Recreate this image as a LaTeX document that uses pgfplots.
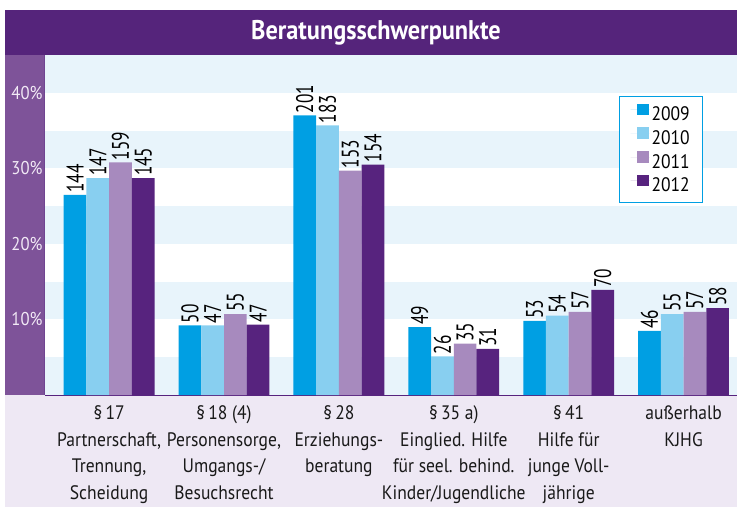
\documentclass[border=0pt]{standalone}
\usepackage{pgfplots}
\pgfplotsset{compat=1.18}
\usepackage{pgfplotstable}
\usepackage{fontspec}
\setmainfont{PT Sans}
\newfontfamily\titlefont[FakeStretch=0.9]{PT Sans}
\newfontfamily\barfont[FakeStretch=0.72]{PT Sans}
\newfontfamily\catfont[FakeStretch=0.9]{PT Sans}
\definecolor{c2009}{HTML}{009FE3}
\definecolor{c2010}{HTML}{88CFF0}
\definecolor{c2011}{HTML}{A78ABE}
\definecolor{c2012}{HTML}{57237E}
\definecolor{titlepurple}{HTML}{55247B}
\definecolor{bandpurple}{HTML}{7E5399}
\definecolor{stripe}{HTML}{E8F4FB}
\definecolor{bottomband}{HTML}{EEE8F4}
\definecolor{ticktext}{HTML}{F2EAF6}

\pgfplotstableread{
x p n
0 26.5 144
1 9.2 50
2 37.0 201
3 9.0 49
4 9.8 53
5 8.5 46
}\tnine
\pgfplotstableread{
x p n
0 28.7 147
1 9.2 47
2 35.7 183
3 5.1 26
4 10.5 54
5 10.7 55
}\tten
\pgfplotstableread{
x p n
0 30.8 159
1 10.7 55
2 29.7 153
3 6.8 35
4 11.0 57
5 11.0 57
}\televen
\pgfplotstableread{
x p n
0 28.7 145
1 9.3 47
2 30.5 154
3 6.1 31
4 13.9 70
5 11.5 58
}\ttwelve

\begin{document}
\begin{tikzpicture}
\fill[bottomband] (5pt,0pt) rectangle (737pt,112pt);
\fill[bandpurple] (5pt,112pt) rectangle (45pt,452pt);
\fill[titlepurple] (5pt,452pt) rectangle (737pt,497pt);
\node[text=white, font={\titlefont\bfseries\fontsize{27}{30}\selectfont}] at (376pt,474pt) {Beratungsschwerpunkte};
\begin{axis}[
  at={(45pt,112pt)}, anchor=south west,
  scale only axis, width=692pt, height=340pt,
  xmin=-0.558, xmax=5.465, ymin=0, ymax=45,
  clip=false,
  ybar=0pt, bar width=22.7pt,
  axis x line*=bottom, axis y line*=left,
  x axis line style={draw=c2012, line width=2pt, -},
  y axis line style={draw=c2012!85, line width=1pt, -},
  major tick length=0pt,
  xtick={0,1,2,3,4,5},
  xticklabels={
    {§\,17\\Partnerschaft,\\Trennung,\\Scheidung},
    {§\,18 (4)\\Personensorge,\\Umgangs-/\\Besuchsrecht},
    {§\,28\\Erziehungs-\\beratung},
    {§\,35 a)\\Einglied. Hilfe\\für seel. behind.\\Kinder/Jugendliche},
    {§\,41\\Hilfe für\\junge Voll-\\jährige},
    {außerhalb\\KJHG}},
  xticklabel style={align=center, font={\catfont\fontsize{19.5}{26.7}\selectfont}, text=black!90, anchor=north, yshift=-7pt},
  ytick={10,20,30,40},
  yticklabels={10\%,20\%,30\%,40\%},
  yticklabel style={font={\catfont\fontsize{18.5}{20}\selectfont}, text=ticktext, anchor=east, xshift=1pt},
  point meta=explicit symbolic,
  nodes near coords={\pgfplotspointmeta},
  every node near coord/.append style={rotate=90, anchor=west, font={\barfont\fontsize{24}{24}\selectfont}, text=black, inner sep=2pt},
  legend cell align=left,
  legend style={at={(0.8295,0.879)}, anchor=north west, draw=c2009, line width=1pt, fill=white,
    font={\catfont\fontsize{19.5}{22}\selectfont}, inner xsep=11pt, inner ysep=7pt, row sep=3pt},
  legend image code/.code={\fill[#1,draw=none] (0pt,-0.5pt) rectangle (12pt,11pt); \path (-6pt,5pt) -- (13pt,5pt);},
]
\fill[stripe] (axis cs:-0.558,0) rectangle (axis cs:5.465,5);
\fill[stripe] (axis cs:-0.558,10) rectangle (axis cs:5.465,15);
\fill[stripe] (axis cs:-0.558,20) rectangle (axis cs:5.465,25);
\fill[stripe] (axis cs:-0.558,30) rectangle (axis cs:5.465,35);
\fill[stripe] (axis cs:-0.558,40) rectangle (axis cs:5.465,45);
\addplot[fill=c2009, draw=none] table[x=x, y=p, meta=n] {\tnine};
\addplot[fill=c2010, draw=none] table[x=x, y=p, meta=n] {\tten};
\addplot[fill=c2011, draw=none] table[x=x, y=p, meta=n] {\televen};
\addplot[fill=c2012, draw=none] table[x=x, y=p, meta=n] {\ttwelve};
\legend{2009,2010,2011,2012}
\end{axis}
\pgfresetboundingbox
\path[use as bounding box] (0pt,0pt) rectangle (737pt,507pt);
\end{tikzpicture}
\end{document}
